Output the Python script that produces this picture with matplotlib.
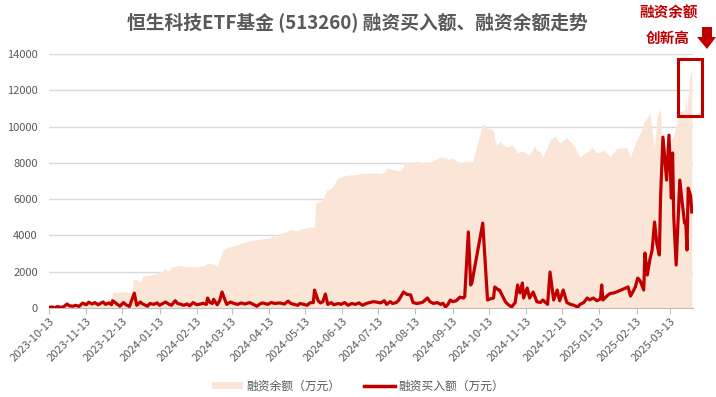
import matplotlib.pyplot as plt
from matplotlib.patches import Rectangle, Polygon, Patch
from matplotlib.lines import Line2D
import pandas as pd

plt.rcParams['font.family'] = ['Noto Sans CJK SC', 'DejaVu Sans']

# 融资余额 (万元)
bal_dates = [
    "2023-10-13", "2023-10-18", "2023-10-22", "2023-10-26", "2023-10-30",
    "2023-11-04", "2023-11-08", "2023-11-12", "2023-11-16", "2023-11-20", "2023-11-24", "2023-11-29",
    "2023-12-03", "2023-12-04", "2023-12-05", "2023-12-09", "2023-12-14", "2023-12-18", "2023-12-21",
    "2023-12-22", "2023-12-25", "2023-12-28", "2023-12-30",
    "2024-01-03", "2024-01-08", "2024-01-12", "2024-01-15", "2024-01-18", "2024-01-20", "2024-01-23",
    "2024-01-27", "2024-01-30",
    "2024-02-03", "2024-02-07", "2024-02-12", "2024-02-16", "2024-02-20", "2024-02-22", "2024-02-25",
    "2024-02-28",
    "2024-03-01", "2024-03-03", "2024-03-06", "2024-03-10", "2024-03-14", "2024-03-18", "2024-03-23",
    "2024-03-28",
    "2024-04-02", "2024-04-07", "2024-04-12", "2024-04-16", "2024-04-19", "2024-04-22", "2024-04-26",
    "2024-05-01", "2024-05-03", "2024-05-06", "2024-05-10", "2024-05-13", "2024-05-17", "2024-05-21",
    "2024-05-22", "2024-05-26", "2024-05-28", "2024-05-31",
    "2024-06-03", "2024-06-05", "2024-06-09", "2024-06-13", "2024-06-16", "2024-06-20", "2024-06-24",
    "2024-06-28", "2024-06-30",
    "2024-07-05", "2024-07-09", "2024-07-13", "2024-07-16", "2024-07-19", "2024-07-20", "2024-07-24",
    "2024-07-27", "2024-07-31",
    "2024-08-03", "2024-08-04", "2024-08-09", "2024-08-12", "2024-08-14", "2024-08-18", "2024-08-21",
    "2024-08-23", "2024-08-26", "2024-08-30",
    "2024-09-03", "2024-09-07", "2024-09-10", "2024-09-13", "2024-09-16", "2024-09-18", "2024-09-21",
    "2024-09-24", "2024-09-26", "2024-09-27", "2024-09-29",
    "2024-10-08", "2024-10-11", "2024-10-12", "2024-10-15", "2024-10-17", "2024-10-18", "2024-10-20",
    "2024-10-22", "2024-10-25", "2024-10-28", "2024-10-31",
    "2024-11-02", "2024-11-05", "2024-11-06", "2024-11-09", "2024-11-11", "2024-11-14", "2024-11-16",
    "2024-11-20", "2024-11-22", "2024-11-25", "2024-11-27",
    "2024-12-01", "2024-12-03", "2024-12-07", "2024-12-10", "2024-12-11", "2024-12-15", "2024-12-17",
    "2024-12-21", "2024-12-24", "2024-12-28", "2024-12-31",
    "2025-01-04", "2025-01-07", "2025-01-11", "2025-01-14", "2025-01-16", "2025-01-20", "2025-01-22",
    "2025-01-25", "2025-01-28",
    "2025-02-05", "2025-02-08", "2025-02-11", "2025-02-14", "2025-02-17", "2025-02-20", "2025-02-23",
    "2025-02-24", "2025-02-26", "2025-02-28",
    "2025-03-02", "2025-03-05", "2025-03-06", "2025-03-10", "2025-03-13", "2025-03-16", "2025-03-19",
    "2025-03-21", "2025-03-25", "2025-03-26", "2025-03-27", "2025-03-29", "2025-03-30", "2025-03-31",
]
bal_values = [
    50, 80, 120, 150, 180,
    220, 250, 280, 300, 330, 400, 450,
    520, 550, 880, 860, 900, 850, 830,
    1600, 1550, 1430, 1760,
    1800, 1850, 1950, 2000, 2200, 1950, 2250,
    2300, 2350,
    2300, 2280, 2260, 2300, 2350, 2480, 2450,
    2400,
    2300, 2700, 3200, 3350, 3400, 3500, 3600,
    3700,
    3750, 3800, 3850, 3950, 3900, 4100, 4150,
    4350, 4300, 4240, 4350, 4400, 4460, 4460,
    5780, 5900, 5950, 6500,
    6550, 6670, 7160, 7250, 7300, 7330, 7350,
    7400, 7440,
    7420, 7450, 7440, 7400, 7600, 7710, 7650,
    7600, 7550,
    7800, 8040, 8000, 8050, 8100, 8000, 8050,
    7990, 8100, 8200,
    8320, 8280, 8200, 8260, 8100, 8050, 7990,
    8150, 8000, 8150, 7930,
    10190, 9950, 9920, 9850, 9810, 9300, 8980,
    9200, 9000, 8870, 8950,
    8980, 8700, 8540, 8650, 8600, 8500, 8430,
    8930, 8700, 8600, 8320,
    8900, 9260, 9480, 9200, 9090, 9300, 9370,
    9100, 8800, 8320, 8500,
    8650, 8870, 8540, 8600, 8700, 8500, 8320,
    8600, 8820,
    8820, 8320, 8900, 9370, 9800, 10360, 10600,
    10800, 9700, 8870,
    10500, 11020, 9000, 8800, 9200, 9500, 10300,
    10800, 10900, 11600, 10900, 12600, 13000, 13150,
]

# 融资买入额 (万元)
buy_dates = [
    "2023-10-13", "2023-10-15", "2023-10-18", "2023-10-20", "2023-10-23", "2023-10-25", "2023-10-28", "2023-10-30",
    "2023-11-02", "2023-11-04", "2023-11-07", "2023-11-10", "2023-11-13", "2023-11-15", "2023-11-18", "2023-11-20",
    "2023-11-23", "2023-11-25", "2023-11-27", "2023-11-29",
    "2023-12-02", "2023-12-04", "2023-12-05", "2023-12-08", "2023-12-11", "2023-12-14", "2023-12-16", "2023-12-19",
    "2023-12-23", "2023-12-25", "2023-12-28", "2023-12-30",
    "2024-01-03", "2024-01-05", "2024-01-08", "2024-01-11", "2024-01-13", "2024-01-16", "2024-01-18", "2024-01-21",
    "2024-01-23", "2024-01-26", "2024-01-28", "2024-01-31",
    "2024-02-02", "2024-02-05", "2024-02-07", "2024-02-10", "2024-02-13", "2024-02-16", "2024-02-18", "2024-02-21",
    "2024-02-22", "2024-02-24", "2024-02-26", "2024-02-27",
    "2024-03-01", "2024-03-03", "2024-03-05", "2024-03-08", "2024-03-09", "2024-03-12", "2024-03-15", "2024-03-18",
    "2024-03-21", "2024-03-24", "2024-03-28", "2024-03-31",
    "2024-04-03", "2024-04-06", "2024-04-08", "2024-04-12", "2024-04-15", "2024-04-18", "2024-04-22", "2024-04-26",
    "2024-04-29",
    "2024-05-01", "2024-05-04", "2024-05-07", "2024-05-09", "2024-05-12", "2024-05-15", "2024-05-17", "2024-05-20",
    "2024-05-21", "2024-05-24", "2024-05-26", "2024-05-28", "2024-05-30",
    "2024-06-01", "2024-06-04", "2024-06-06", "2024-06-10", "2024-06-12", "2024-06-15", "2024-06-18", "2024-06-21",
    "2024-06-24", "2024-06-27", "2024-06-30",
    "2024-07-03", "2024-07-06", "2024-07-09", "2024-07-12", "2024-07-15", "2024-07-18", "2024-07-20", "2024-07-23",
    "2024-07-25", "2024-07-28", "2024-07-30",
    "2024-08-03", "2024-08-06", "2024-08-09", "2024-08-11", "2024-08-14", "2024-08-17", "2024-08-19", "2024-08-23",
    "2024-08-25", "2024-08-28", "2024-08-31",
    "2024-09-03", "2024-09-05", "2024-09-07", "2024-09-09", "2024-09-11", "2024-09-13", "2024-09-16", "2024-09-19",
    "2024-09-22", "2024-09-23", "2024-09-26", "2024-09-28", "2024-09-29",
    "2024-10-08", "2024-10-12", "2024-10-14", "2024-10-17", "2024-10-18", "2024-10-21", "2024-10-22", "2024-10-25",
    "2024-10-27", "2024-10-29",
    "2024-11-01", "2024-11-04", "2024-11-06", "2024-11-08", "2024-11-10", "2024-11-11", "2024-11-14", "2024-11-16",
    "2024-11-19", "2024-11-22", "2024-11-25", "2024-11-27",
    "2024-12-01", "2024-12-03", "2024-12-06", "2024-12-09", "2024-12-11", "2024-12-14", "2024-12-17", "2024-12-20",
    "2024-12-23", "2024-12-26", "2024-12-28", "2024-12-31",
    "2025-01-03", "2025-01-05", "2025-01-08", "2025-01-11", "2025-01-14", "2025-01-15", "2025-01-16", "2025-01-20",
    "2025-01-22", "2025-01-25", "2025-01-28",
    "2025-02-04", "2025-02-06", "2025-02-08", "2025-02-10", "2025-02-12", "2025-02-14", "2025-02-16", "2025-02-19",
    "2025-02-20", "2025-02-22", "2025-02-24", "2025-02-26", "2025-02-28",
    "2025-03-02", "2025-03-04", "2025-03-05", "2025-03-07", "2025-03-10", "2025-03-12", "2025-03-14", "2025-03-15",
    "2025-03-16", "2025-03-18", "2025-03-21", "2025-03-23", "2025-03-25", "2025-03-26", "2025-03-27", "2025-03-28",
    "2025-03-30", "2025-03-31",
]
buy_values = [
    30, 60, 20, 80, 40, 60, 220, 120,
    100, 150, 90, 270, 180, 320, 220, 300,
    180, 260, 330, 200,
    280, 180, 400, 250, 100, 300, 180, 90,
    820, 150, 330, 220,
    100, 250, 200, 280, 150, 260, 330, 200,
    150, 400, 250, 200,
    150, 220, 120, 300, 180, 220, 260, 200,
    550, 300, 250, 480,
    180, 400, 880, 350, 200, 330, 250, 200,
    280, 220, 300, 200,
    100, 240, 280, 200, 300, 250, 280, 220,
    380,
    260, 200, 150, 250, 200, 150, 280, 300,
    990, 400, 280, 350, 770,
    200, 300, 180, 250, 200, 300, 150, 250,
    200, 280, 150,
    250, 300, 350, 320, 280, 400, 200, 350,
    250, 300, 420,
    880, 750, 720, 300, 250, 280, 320, 550,
    350, 250, 300,
    200, 260, 50, 200, 440, 350, 400, 600,
    550, 620, 4190, 1270, 1400,
    4680, 440, 500, 550, 1160, 1000, 990, 600,
    330, 200,
    55, 300, 1270, 830, 1380, 550, 1100, 550,
    880, 350, 300, 440,
    200, 1980, 440, 990, 400, 990, 300, 200,
    150, 50, 200, 300,
    550, 450, 550, 400, 500, 1270, 440, 700,
    800, 830, 900,
    1100, 1160, 660, 900, 1160, 1650, 1500, 990,
    3030, 1820, 2640, 3200, 4740,
    3500, 2920, 6120, 9420, 7050, 9530, 6060, 8540,
    5000, 2370, 7050, 5800, 4680, 4740, 3200, 6610,
    6200, 5290,
]

tick_dates = [pd.Timestamp("2023-10-13") + pd.DateOffset(months=i) for i in range(18)]
y_ticks = [0, 2000, 4000, 6000, 8000, 10000, 12000, 14000]

title = "恒生科技ETF基金 (513260) 融资买入额、融资余额走势"
bal_label = "融资余额（万元）"
buy_label = "融资买入额（万元）"

FILL = "#FBE5D6"
RED = "#C00000"
GREY = "#595959"

bal_x = pd.to_datetime(bal_dates)
buy_x = pd.to_datetime(buy_dates)

fig = plt.figure(figsize=(7.16, 3.97), dpi=100)
ax = fig.add_axes([49 / 716, 1 - 308 / 397, 644 / 716, 254 / 397])

ax.fill_between(bal_x, bal_values, 0, color=FILL, lw=0, zorder=1)
ax.plot(buy_x, buy_values, color=RED, lw=2.3, solid_joinstyle="round", zorder=3)

ax.set_xlim(pd.Timestamp("2023-10-13"), pd.Timestamp("2025-04-01"))
ax.set_ylim(0, 14000)
ax.set_yticks(y_ticks)
ax.set_yticklabels([str(v) for v in y_ticks], fontsize=8, color=GREY)
ax.set_xticks(tick_dates)
ax.set_xticklabels([d.strftime("%Y-%m-%d") for d in tick_dates], fontsize=8, color=GREY,
                   rotation=45, ha="right", rotation_mode="anchor")
ax.tick_params(axis="y", length=0, pad=8)
ax.tick_params(axis="x", length=4, color="#BFBFBF", pad=2)
ax.grid(axis="y", color="#D9D9D9", lw=1, zorder=0)
ax.set_axisbelow(True)
for s in ["top", "right", "left"]:
    ax.spines[s].set_visible(False)
ax.spines["bottom"].set_color("#BFBFBF")

fig.text(357 / 716, 1 - 22 / 397, title, fontsize=13.5, fontweight="bold", color=GREY,
         ha="center", va="center")

# callout: 融资余额创新高
fig.text(669 / 716, 1 - 11.5 / 397, "融资余额", fontsize=10.5, fontweight="bold", color=RED,
         ha="center", va="center")
fig.text(668 / 716, 1 - 37.5 / 397, "创新高", fontsize=10.5, fontweight="bold", color=RED,
         ha="center", va="center")
fig.add_artist(Rectangle((678 / 716, 1 - 116 / 397), 24 / 716, 57 / 397, fill=False,
                         ec=RED, lw=2.2, transform=fig.transFigure))
arrow_px = [(702, 27), (712, 27), (712, 37), (716, 37), (707, 49), (697, 37), (702, 37)]
fig.add_artist(Polygon([(x / 716, 1 - y / 397) for x, y in arrow_px], closed=True,
                       fc=RED, ec="none", transform=fig.transFigure))

handles = [Patch(fc=FILL, ec="none"), Line2D([], [], color=RED, lw=2.5)]
fig.legend(handles, [bal_label, buy_label], loc="center", bbox_to_anchor=(0.5, 1 - 386 / 397),
           ncol=2, frameon=False, fontsize=8.5, labelcolor=GREY, handlelength=2.6, handleheight=0.6,
           handletextpad=0.3, columnspacing=2.0)

fig.savefig("out.png", dpi=100)
